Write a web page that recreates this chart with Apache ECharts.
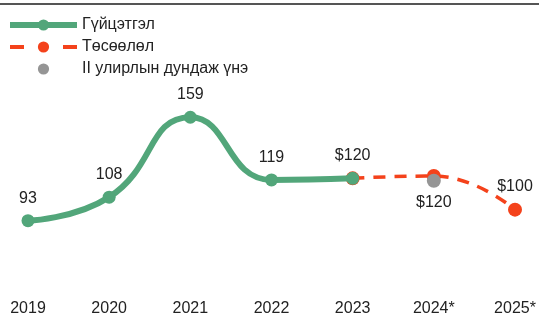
<!DOCTYPE html>
<html>
<head>
<meta charset="utf-8">
<script src="https://cdn.jsdelivr.net/npm/echarts@6/dist/echarts.min.js"></script>
<style>
  html, body { margin: 0; padding: 0; background: #fff; }
  #chart { width: 539px; height: 317px; }
</style>
</head>
<body>
<div id="chart"></div>
<script>
// years on x axis
const years = ['2019', '2020', '2021', '2022', '2023', '2024*', '2025*'];
// actual values (Гүйцэтгэл)
const actual = [93, 108, 159, 119, 120, null, null];
const actualLabels = ['93', '108', '159', '119', '$120', '', ''];
// forecast (Төсөөлөл)
const forecast = [null, null, null, null, 120, 121.5, 100];
const forecastLabels = ['', '', '', '', '', '', '$100'];
// II quarter average price
const quarterAvg = [null, null, null, null, null, 118.5, null];
const quarterLabels = ['', '', '', '', '', '$120', ''];

const GREEN = '#52a67a';
const ORANGE = '#f4421b';
const GRAY = '#959595';
const FONT = 'Liberation Sans, Arial, sans-serif';

const chart = echarts.init(document.getElementById('chart'), null, {renderer: 'canvas'});

const labelStyle = {
  show: true,
  fontSize: 16,
  color: '#222',
  fontFamily: FONT,
  opacity: 1
};

const option = {
  animation: false,
  backgroundColor: '#fff',
  textStyle: {fontFamily: FONT},
  graphic: [
    {
      type: 'line',
      shape: {x1: 0, y1: 4, x2: 539, y2: 4},
      style: {stroke: '#555', lineWidth: 2}
    }
  ],
  legend: {
    orient: 'vertical',
    left: 2,
    top: 12,
    itemWidth: 67,
    itemHeight: 14,
    itemGap: 6,
    lineStyle: {width: 'inherit'},
    textStyle: {fontSize: 16, color: '#222', fontFamily: FONT},
    data: [
      {name: 'Гүйцэтгэл'},
      {name: 'Төсөөлөл', lineStyle: {type: [14, 39], width: 4}},
      {name: 'II улирлын дундаж үнэ'}
    ]
  },
  grid: {left: 28, right: 24, top: 100, bottom: 24},
  xAxis: {
    type: 'category',
    data: years,
    boundaryGap: false,
    axisLine: {show: false},
    axisTick: {show: false},
    axisLabel: {fontSize: 16, color: '#222', margin: 13, fontFamily: FONT}
  },
  yAxis: {
    type: 'value',
    min: 50,
    max: 170,
    show: false,
    splitLine: {show: false}
  },
  series: [
    {
      name: 'Төсөөлөл',
      type: 'line',
      data: forecast,
      smooth: 0.5,
      symbol: 'circle',
      symbolSize: 14,
      showSymbol: true,
      itemStyle: {color: ORANGE},
      lineStyle: {color: ORANGE, width: 3.5, type: [12, 9]},
      label: Object.assign({}, labelStyle, {
        position: 'top',
        distance: 8,
        formatter: p => forecastLabels[p.dataIndex]
      }),
      z: 2
    },
    {
      name: 'Гүйцэтгэл',
      type: 'line',
      data: actual,
      smooth: 0.5,
      symbol: 'circle',
      symbolSize: 13,
      itemStyle: {color: GREEN},
      lineStyle: {color: GREEN, width: 6},
      label: Object.assign({}, labelStyle, {
        position: 'top',
        distance: 8,
        formatter: p => actualLabels[p.dataIndex]
      }),
      z: 3
    },
    {
      name: 'II улирлын дундаж үнэ',
      type: 'line',
      data: quarterAvg,
      symbol: 'circle',
      symbolSize: 14,
      showSymbol: true,
      itemStyle: {color: GRAY},
      lineStyle: {width: 0, color: GRAY},
      label: Object.assign({}, labelStyle, {
        position: 'bottom',
        distance: 7,
        formatter: p => quarterLabels[p.dataIndex]
      }),
      z: 4
    }
  ]
};

chart.setOption(option);
</script>
</body>
</html>
